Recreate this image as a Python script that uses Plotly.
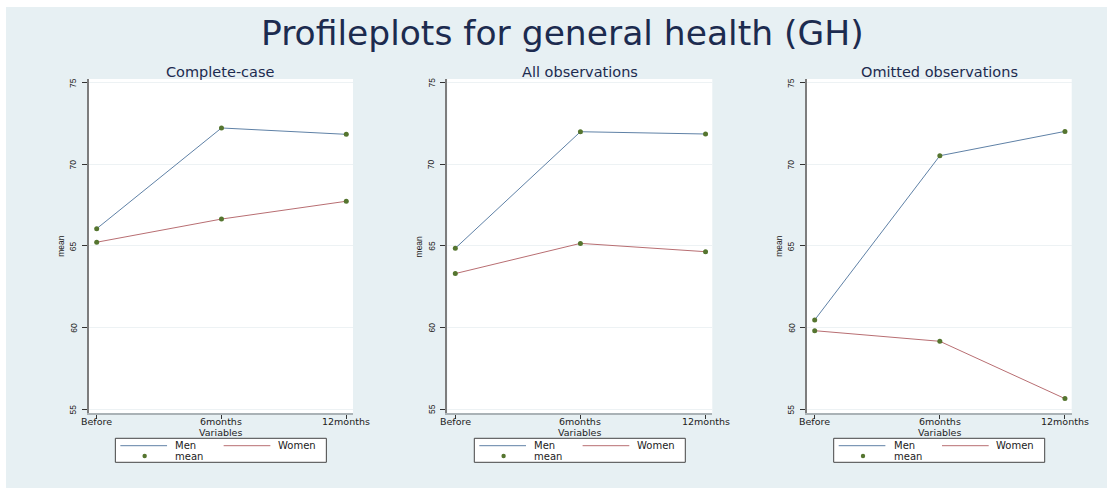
import plotly.graph_objects as go

# ---- data -------------------------------------------------------------
periods = ["Before", "6months", "12months"]
panel_titles = ["Complete-case", "All observations", "Omitted observations"]

men_complete = [66.06, 72.23, 71.84]
women_complete = [65.23, 66.65, 67.74]

men_all = [64.86, 72.00, 71.86]
women_all = [63.31, 65.16, 64.65]

men_omitted = [60.47, 70.53, 72.02]
women_omitted = [59.81, 59.16, 55.65]

y_ticks = [55, 60, 65, 70, 75]

# ---- layout helpers -----------------------------------------------------
W, H = 1107, 488
BG = "#e7f0f3"
NAVY_TEXT = "#1c2b4f"
TEXT_C = "#222222"
MEN_C = "#5f81a6"
WOMEN_C = "#b86e72"
MEAN_C = "#55752f"


def px_x(x):
    return x / W


def px_y(y):
    return 1 - y / H


# plot-area pixel boxes (left, right), shared top/bottom
plot_x = [(88.7, 353.0), (447.3, 712.3), (806.7, 1071.7)]
plot_top, plot_bottom = 79.0, 413.3

series = [(men_complete, women_complete),
          (men_all, women_all),
          (men_omitted, women_omitted)]

x_pos = list(range(1, len(periods) + 1))

fig = go.Figure()
shapes = []
annotations = []

# thin white margin along the top and left edges of the graph region
shapes.append(dict(type="rect", xref="paper", yref="paper",
                   x0=0, x1=1, y0=px_y(7), y1=1,
                   fillcolor="white", line=dict(width=0)))
shapes.append(dict(type="rect", xref="paper", yref="paper",
                   x0=0, x1=px_x(6), y0=0, y1=1,
                   fillcolor="white", line=dict(width=0)))

for i, ((m_vals, w_vals), title, (xl, xr)) in enumerate(zip(series, panel_titles, plot_x)):
    n = "" if i == 0 else str(i + 1)
    xa, ya = "x" + n, "y" + n
    fig.add_trace(go.Scatter(x=x_pos, y=m_vals, mode="lines", name="Men",
                             line=dict(color=MEN_C, width=1),
                             xaxis=xa, yaxis=ya, showlegend=False))
    fig.add_trace(go.Scatter(x=x_pos, y=w_vals, mode="lines", name="Women",
                             line=dict(color=WOMEN_C, width=1),
                             xaxis=xa, yaxis=ya, showlegend=False))
    fig.add_trace(go.Scatter(x=x_pos + x_pos, y=m_vals + w_vals, mode="markers",
                             name="mean", marker=dict(color=MEAN_C, size=5),
                             xaxis=xa, yaxis=ya, showlegend=False))

    fig.layout["xaxis" + n] = dict(
        domain=[px_x(xl), px_x(xr)], anchor=ya, range=[0.936, 3.054],
        tickvals=x_pos, showticklabels=False, showgrid=False, zeroline=False,
        showline=True, linecolor="#aab2b6", linewidth=2,
        ticks="outside", ticklen=4, tickcolor="#333333", tickwidth=1,
        automargin=False, fixedrange=True,
    )
    fig.layout["yaxis" + n] = dict(
        domain=[px_y(plot_bottom), px_y(plot_top)], anchor=xa, range=[54.75, 75.23],
        tickvals=y_ticks, showticklabels=False,
        showgrid=True, gridcolor="#edf2f4", gridwidth=1, zeroline=False,
        showline=True, linecolor="#7d7d7d", linewidth=2,
        ticks="outside", ticklen=5, tickcolor="#333333", tickwidth=1,
        automargin=False, fixedrange=True,
    )

    # category labels under the x axis
    for xv, lab in zip(x_pos, periods):
        annotations.append(dict(text=lab, x=xv, xref=xa, y=px_y(421.5), yref="paper",
                                showarrow=False, xanchor="center", yanchor="middle",
                                font=dict(family="DejaVu Sans", size=9.5, color=TEXT_C)))
    # vertical value labels beside the y axis
    for yv in y_ticks:
        annotations.append(dict(text=str(yv), x=px_x(xl - 15.5), xref="paper", y=yv, yref=ya,
                                textangle=-90, showarrow=False, xanchor="center", yanchor="middle",
                                font=dict(family="Liberation Sans", size=8.5, color=TEXT_C)))

    cx = (xl + xr) / 2
    # panel title
    annotations.append(dict(text=title, x=px_x(cx), y=px_y(71.5), xref="paper", yref="paper",
                            showarrow=False, xanchor="center", yanchor="middle",
                            font=dict(family="DejaVu Sans", size=14.5, color=NAVY_TEXT)))
    # x axis title
    annotations.append(dict(text="Variables", x=px_x(cx), y=px_y(432), xref="paper", yref="paper",
                            showarrow=False, xanchor="center", yanchor="middle",
                            font=dict(family="DejaVu Sans", size=9.5, color=TEXT_C)))
    # y axis title
    annotations.append(dict(text="mean", x=px_x(xl - 28), y=px_y((plot_top + plot_bottom) / 2),
                            xref="paper", yref="paper", textangle=-90,
                            showarrow=False, xanchor="center", yanchor="middle",
                            font=dict(family="Liberation Sans", size=8.5, color=TEXT_C)))

    # legend box
    bx0, bx1 = cx - 105.5, cx + 105.5
    by0, by1 = 438.3, 462.3
    shapes.append(dict(type="rect", xref="paper", yref="paper",
                       x0=px_x(bx0), x1=px_x(bx1), y0=px_y(by1), y1=px_y(by0),
                       fillcolor="white", line=dict(color="#444444", width=1)))
    row1, row2 = 445.7, 456.0
    shapes.append(dict(type="line", xref="paper", yref="paper",
                       x0=px_x(bx0 + 5), x1=px_x(bx0 + 51.7), y0=px_y(row1), y1=px_y(row1),
                       line=dict(color=MEN_C, width=1)))
    shapes.append(dict(type="line", xref="paper", yref="paper",
                       x0=px_x(bx0 + 108.3), x1=px_x(bx0 + 155), y0=px_y(row1), y1=px_y(row1),
                       line=dict(color=WOMEN_C, width=1)))
    mx = bx0 + 29.3
    shapes.append(dict(type="circle", xref="paper", yref="paper",
                       x0=px_x(mx - 2.2), x1=px_x(mx + 2.2), y0=px_y(row2 + 2.2), y1=px_y(row2 - 2.2),
                       fillcolor=MEAN_C, line=dict(color=MEAN_C, width=0)))
    for label, lx, ly in [("Men", bx0 + 58, row1), ("Women", bx0 + 160.7, row1), ("mean", bx0 + 58, row2)]:
        annotations.append(dict(text=label, x=px_x(lx), y=px_y(ly), xref="paper", yref="paper",
                                showarrow=False, xanchor="left", yanchor="middle",
                                font=dict(family="DejaVu Sans", size=10, color=TEXT_C)))

# main title
annotations.append(dict(text="Profileplots for general health (GH)", x=px_x(562), y=px_y(33),
                        xref="paper", yref="paper", showarrow=False,
                        xanchor="center", yanchor="middle",
                        font=dict(family="DejaVu Sans", size=34.5, color=NAVY_TEXT)))

fig.update_layout(
    template="none",
    width=W, height=H, margin=dict(l=0, r=0, t=0, b=0),
    paper_bgcolor=BG, plot_bgcolor="white",
    shapes=shapes, annotations=annotations, showlegend=False,
)

fig.write_html("out.html", config=dict(displayModeBar=False))
